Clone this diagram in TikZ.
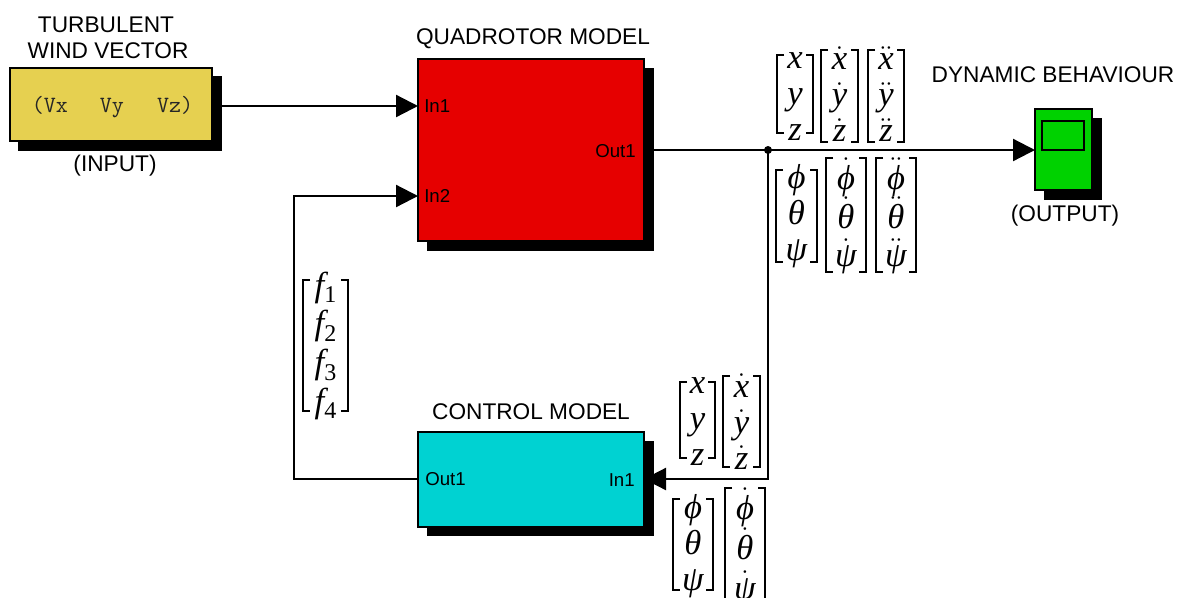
\documentclass[tikz,border=0pt]{standalone}
\usepackage{amsmath}
\usepackage{fontspec}
\setmainfont{Liberation Sans}
\newfontfamily\vecfont{Liberation Serif}
\usetikzlibrary{arrows.meta,calc}
\definecolor{windyellow}{HTML}{E6D050}
\definecolor{quadred}{HTML}{E60000}
\definecolor{ctrlcyan}{HTML}{00D2D2}
\definecolor{scopegreen}{HTML}{00D200}
\newcommand{\dotv}[1]{$\dot{\text{#1}}$}
\newcommand{\ddotv}[1]{$\ddot{\text{#1}}$}
\newcommand{\subv}[2]{#1\raisebox{-5pt}{\upshape\fontsize{18}{18}\selectfont #2}}
% name, left, right, top, bottom, line spacing (pt), vertical offset (px), rows
\newcommand{\vecblock}[8]{%
  \draw[brk] ({#2+7},#4) -- (#2,#4) -- (#2,#5) -- ({#2+7},#5);
  \draw[brk] ({#3-7},#4) -- (#3,#4) -- (#3,#5) -- ({#3-7},#5);
  \node[vecrows,font=\vecfont\itshape\fontsize{26}{#6}\selectfont] (#1) at ({(#2+#3)/2},{(#4+#5)/2+#7}) {#8};
}
\tikzset{
  x=0.75pt,y=-0.75pt,
  block/.style={draw=black,line width=1.6pt,inner sep=0pt,outer sep=0pt,anchor=north west},
  blockshadow/.style={fill=black,inner sep=0pt,outer sep=0pt,anchor=north west},
  wire/.style={line width=1.7pt,draw=black},
  arrowwire/.style={wire,-{Triangle[length=16.5pt,width=16.5pt]}},
  title/.style={font=\fontsize{17}{20}\selectfont,inner sep=0pt,text=black},
  port/.style={font=\fontsize{14}{17}\selectfont,inner sep=0pt,text=black},
  brk/.style={line width=0.95pt,draw=black},
  vecrows/.style={inner sep=0pt,align=center,text=black,execute at begin node={\lineskiplimit=-100pt\relax}},
}
\begin{document}
\begin{tikzpicture}
\useasboundingbox (0,0) rectangle (1182,597);
\fill[white] (0,0) rectangle (1182,597);
% shadows
\node[blockshadow,minimum width=153pt,minimum height=56.25pt] (windsh) at (18,76) {};
\node[blockshadow,minimum width=170.25pt,minimum height=137.25pt] (quadsh) at (427,68) {};
\node[blockshadow,minimum width=170.25pt,minimum height=71.25pt] (ctrlsh) at (427,441) {};
\node[blockshadow,minimum width=43.5pt,minimum height=61.5pt] (scopesh) at (1044,118) {};
% blocks
\node[block,fill=windyellow,minimum width=151.5pt,minimum height=54.75pt] (wind) at (10,68) {};
\node[block,fill=quadred,minimum width=169.5pt,minimum height=136.5pt] (quad) at (418,59) {};
\node[block,fill=ctrlcyan,minimum width=169.5pt,minimum height=71.25pt] (ctrl) at (418,432) {};
\node[block,fill=scopegreen,minimum width=42.75pt,minimum height=60.75pt] (scope) at (1035,109) {};
\node[block,minimum width=31.5pt,minimum height=21.75pt] (screen) at (1042,121) {};
% block text
\node[inner sep=0pt,font=\ttfamily\fontsize{17.5}{19}\selectfont,text=black!85] (windtxt) at (112.5,107) {(Vx\hspace{24pt}Vy\hspace{25pt}Vz)};
\node[port,anchor=west] (qin1) at (424,106) {In1};
\node[port,anchor=west] (qin2) at (424,196) {In2};
\node[port,anchor=east] (qout) at (636,151) {Out1};
\node[port,anchor=west] (cout) at (425,479) {Out1};
\node[port,anchor=east] (cin) at (635,480) {In1};
% titles
\node[title] (t1) at (106,25) {TURBULENT};
\node[title] (t2) at (108,51) {WIND VECTOR};
\node[title] (t3) at (115,166) {(INPUT)};
\node[title] (t4) at (533,39) {QUADROTOR MODEL};
\node[title] (t5) at (531,412) {CONTROL MODEL};
\node[title] (t6) at (1053,75) {DYNAMIC BEHAVIOUR};
\node[title] (t7) at (1065,216) {(OUTPUT)};
% connectors
\coordinate (jun) at (768,150);
\coordinate (fbcorner) at (768,479);
\coordinate (ctlcorner) at (294,479);
\coordinate (ctlup) at (294,196);
\draw[arrowwire] (windsh.east |- qin1) -- (quad.west |- qin1);
\draw[arrowwire] (quad.west |- ctlcorner) -- (ctlcorner) -- (ctlup) -- (quad.west |- ctlup);
\draw[wire] (quadsh.east |- jun) -- (jun);
\draw[arrowwire] (jun) -- (scope.west |- jun);
\draw[arrowwire] (jun) -- (fbcorner) -- (ctrl.east |- fbcorner);
\fill[black] (jun) circle (3pt);
% vectors
\vecblock{m1}{777}{813}{55}{133}{27}{3}{x\\y\\z}
\vecblock{m2}{821}{858}{50}{142}{27}{-2}{\dotv{x}\\\dotv{y}\\\dotv{z}}
\vecblock{m3}{868}{904}{50}{142}{27}{-2}{\ddotv{x}\\\ddotv{y}\\\ddotv{z}}
\vecblock{m4}{776}{817}{170}{262}{27}{0}{ϕ\\θ\\ψ}
\vecblock{m5}{826}{866}{158}{272}{29}{1}{\dotv{ϕ}\\\dotv{θ}\\\dotv{ψ}}
\vecblock{m6}{876}{916}{158}{272}{29}{1}{\ddotv{ϕ}\\\ddotv{θ}\\\ddotv{ψ}}
\vecblock{m7}{680}{715}{382}{458}{27}{2}{x\\y\\z}
\vecblock{m8}{723}{760}{376}{467}{27}{0}{\dotv{x}\\\dotv{y}\\\dotv{z}}
\vecblock{m9}{673}{713}{499}{590}{27}{2}{ϕ\\θ\\ψ}
\vecblock{m10}{725}{765}{488}{606}{30}{0}{\dotv{ϕ}\\\dotv{θ}\\\dotv{ψ}}
\vecblock{m11}{303}{348}{280}{411}{29}{0}{\subv{f}{1}\\\subv{f}{2}\\\subv{f}{3}\\\subv{f}{4}}
\end{tikzpicture}
\end{document}
